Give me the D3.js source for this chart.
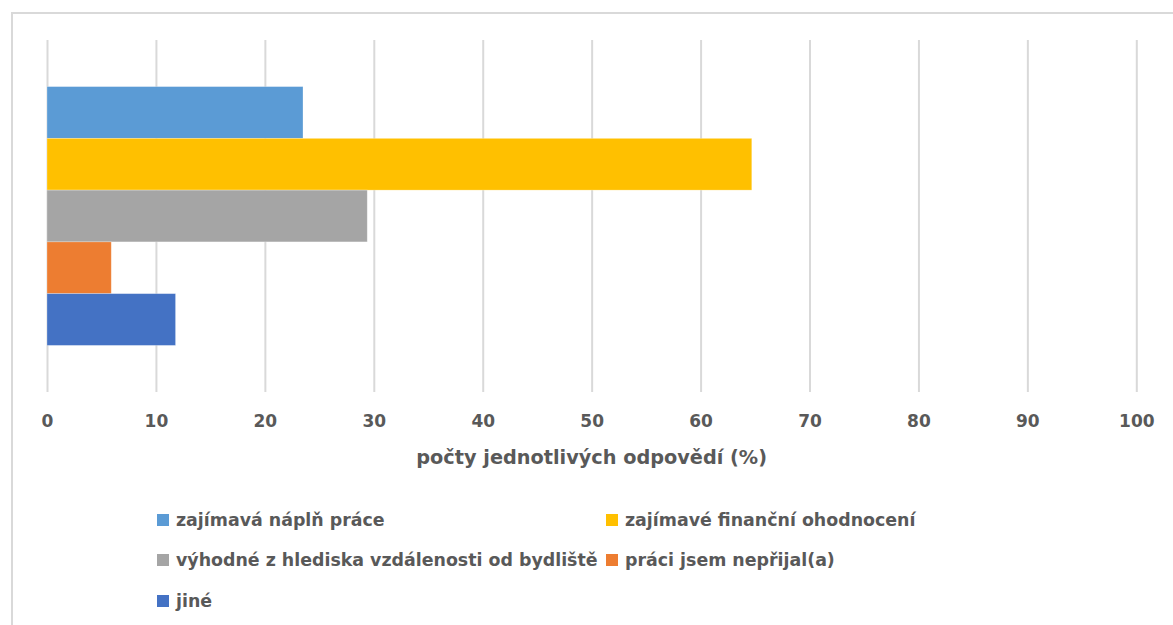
<!DOCTYPE html>
<html>
<head>
<meta charset="utf-8">
<script src="https://cdn.jsdelivr.net/npm/d3@7"></script>
<style>
  html, body { margin: 0; padding: 0; background: #fff; }
  svg { display: block; }
</style>
</head>
<body>
<svg id="chart" width="1173" height="625"></svg>
<script>
// Answer categories and share of respondents (%)
const series = [
  "zajímavá náplň práce",
  "zajímavé finanční ohodnocení",
  "výhodné z hlediska vzdálenosti od bydliště",
  "práci jsem nepřijal(a)",
  "jiné"
];
const values = [23.5, 64.7, 29.4, 5.9, 11.8];
const colors = ["#5b9bd5", "#ffc000", "#a5a5a5", "#ed7d31", "#4472c4"];
const xTicks = [0, 10, 20, 30, 40, 50, 60, 70, 80, 90, 100];
const xTitle = "počty jednotlivých odpovědí (%)";

const svg = d3.select("#chart");
const font = "'DejaVu Sans', Verdana, sans-serif";
const textColor = "#595959";
const gridColor = "#d9d9d9";

// chart frame
svg.append("rect")
  .attr("x", 12).attr("y", 13)
  .attr("width", 1200).attr("height", 700)
  .attr("fill", "#fff")
  .attr("stroke", gridColor).attr("stroke-width", 2);

const plot = { left: 47, right: 1136.3, top: 40, bottom: 392 };

const x = d3.scaleLinear().domain([0, 100]).range([plot.left, plot.right]);

// one category band holding the five series bars
const band = d3.scaleBand().domain(["all"]).range([plot.top, plot.bottom]).paddingInner(0).paddingOuter(0.18);
const inner = d3.scaleBand().domain(series).range([0, band.bandwidth()]);

// vertical gridlines
const axis = d3.axisBottom(x).tickValues(xTicks).tickSize(-(plot.bottom - plot.top)).tickPadding(0).tickFormat(d3.format("d"));
const g = svg.append("g").attr("transform", `translate(0,${plot.bottom})`).call(axis);
g.select(".domain").remove();
g.selectAll(".tick line").attr("stroke", gridColor).attr("stroke-width", 2);
g.selectAll(".tick text")
  .attr("y", 29)
  .attr("dy", "0.35em")
  .attr("fill", textColor)
  .attr("font-family", font)
  .attr("font-weight", "bold")
  .attr("font-size", 17);

// bars
svg.append("g").selectAll("rect")
  .data(series)
  .join("rect")
  .attr("x", x(0))
  .attr("y", (d) => band("all") + inner(d))
  .attr("width", (d, i) => x(values[i]) - x(0))
  .attr("height", inner.bandwidth())
  .attr("fill", (d, i) => colors[i])
  .attr("stroke", "#fff")
  .attr("stroke-opacity", 0.35)
  .attr("stroke-width", 0.75);

// axis title
svg.append("text")
  .attr("x", (plot.left + plot.right) / 2)
  .attr("y", 457)
  .attr("dy", "0.35em")
  .attr("text-anchor", "middle")
  .attr("fill", textColor)
  .attr("font-family", font)
  .attr("font-weight", "bold")
  .attr("font-size", 19.3)
  .text(xTitle);

// legend: two columns, three rows
const legendCols = [157, 606];
const legendRows = [520, 560, 601];
const legend = svg.append("g").selectAll("g")
  .data(series)
  .join("g")
  .attr("transform", (d, i) => `translate(${legendCols[i % 2]},${legendRows[Math.floor(i / 2)]})`);
legend.append("rect")
  .attr("x", 0).attr("y", -6)
  .attr("width", 12).attr("height", 12)
  .attr("fill", (d, i) => colors[i]);
legend.append("text")
  .attr("x", 19)
  .attr("dy", "0.35em")
  .attr("fill", textColor)
  .attr("font-family", font)
  .attr("font-weight", "bold")
  .attr("font-size", 17.4)
  .text((d) => d);
</script>
</body>
</html>
